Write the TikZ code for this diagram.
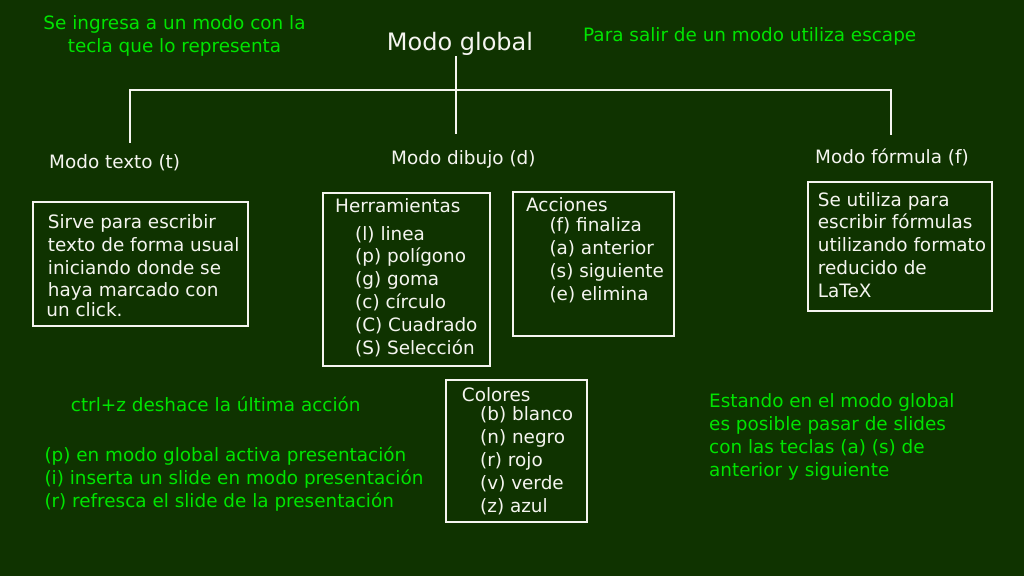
\documentclass[tikz,border=0pt]{standalone}
\usepackage{fontspec}
\setmainfont{DejaVu Sans}
\usetikzlibrary{calc}
\usetikzlibrary{positioning}

\definecolor{fondo}{RGB}{15,51,0}
\definecolor{letra}{RGB}{245,245,240}
\definecolor{nota}{RGB}{0,228,0}

\tikzset{
    texto/.style={inner sep=0, text=letra, font=\fontsize{18.4}{22.8}\selectfont},
    aviso/.style={texto, text=nota},
    caja/.style={rectangle, draw=letra, line width=2pt},
    rama/.style={draw=letra, line width=2pt}
}

\begin{document}
\begin{tikzpicture}[x=1pt, y=-1pt]
        % fondo
        \fill[fondo] (0,0) rectangle (1024,576);
        \useasboundingbox (0,0) rectangle (1024,576);

        % notas de arriba
        \node[aviso, align=center] (ingreso) at (174.5,36) {Se ingresa a un modo con la\\tecla que lo representa};
        \node[aviso, anchor=base west] (salir) at (583,41.7) {Para salir de un modo utiliza escape};

        % modo global
        \node[texto, anchor=base, font=\fontsize{24}{28}\selectfont] (global) at (460,50) {Modo global};

        % modos
        \node[texto, anchor=base west] (mtexto) at (49,168) {Modo texto (t)};
        \node[texto, anchor=base west] (mdibujo) at (391,164) {Modo dibujo (d)};
        \node[texto, anchor=base west] (mformula) at (815,163) {Modo fórmula (f)};

        % global a modos
        \draw[rama] ($(global.south) + (-4,1)$) -- ($(mdibujo.north west) + (65,-16)$);
        \draw[rama] ($(mtexto.north west) + (81,-11)$) |- ($(mformula.north west) + (76,-58)$) -- ($(mformula.north west) + (76,-13)$);

        % cajas
        \node[caja, minimum width=215pt, minimum height=124pt] (ctexto) at (140.5,264) {};
        \node[caja, minimum width=167pt, minimum height=173pt] (cherram) at (406.5,279) {};
        \node[caja, minimum width=161pt, minimum height=144pt] (cacciones) at (593.5,263.5) {};
        \node[caja, minimum width=184pt, minimum height=129pt] (cformula) at (900,246.3) {};
        \node[caja, minimum width=141pt, minimum height=142pt] (ccolores) at (516.5,451.3) {};

        % texto de las cajas
        \node[texto, align=left, anchor=north west] (ltexto) at (47.7,214.3) {Sirve para escribir\\texto de forma usual\\iniciando donde se\\haya marcado con\\[-3pt]\hspace*{-1.5pt}un click.};

        \node[texto, anchor=base west] (therram) at (335,212.7) {Herramientas};
        \node[texto, align=left, anchor=north west] (lherram) at (355,226) {(l) linea\\(p) polígono\\(g) goma\\(c) círculo\\(C) Cuadrado\\(S) Selección};

        \node[texto, anchor=base west] (tacciones) at (526,211.7) {Acciones};
        \node[texto, align=left, anchor=north west] (lacciones) at (549.3,217.7) {(f) finaliza\\(a) anterior\\(s) siguiente\\(e) elimina};

        \node[texto, align=left, anchor=north west] (lformula) at (817.7,192) {Se utiliza para\\escribir fórmulas\\utilizando formato\\reducido de\\LaTeX};

        \node[texto, anchor=base west] (tcolores) at (461.7,401.7) {Colores};
        \node[texto, align=left, anchor=north west] (lcolores) at (480,406.7) {(b) blanco\\(n) negro\\(r) rojo\\(v) verde\\(z) azul};

        % notas de abajo
        \node[aviso, anchor=base west] (deshacer) at (70.7,411.7) {ctrl+z deshace la última acción};
        \node[aviso, align=left, anchor=north west] (presenta) at (44.3,447) {(p) en modo global activa presentación\\(i) inserta un slide en modo presentación\\(r) refresca el slide de la presentación};
        \node[aviso, align=left, anchor=north west] (slides) at (709,393.7) {Estando en el modo global\\es posible pasar de slides\\con las teclas (a) (s) de\\anterior y siguiente};

    \end{tikzpicture}
\end{document}
